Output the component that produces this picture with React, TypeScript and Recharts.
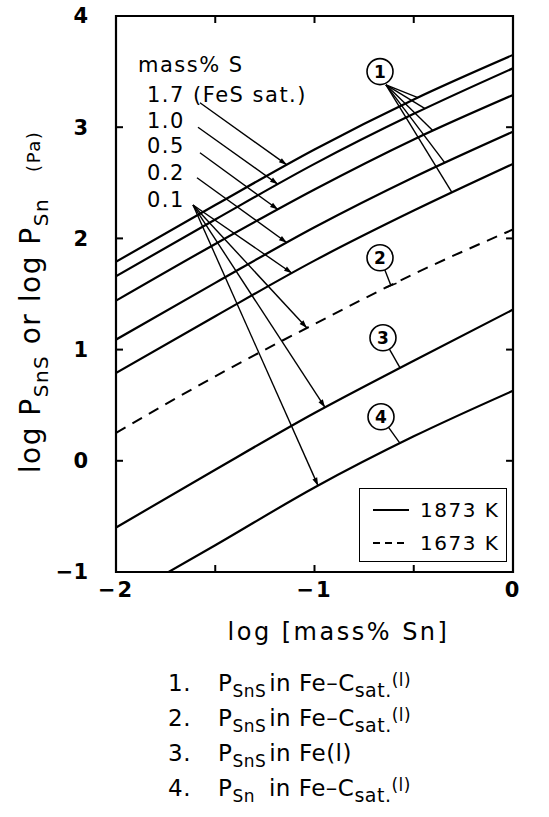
import React from "react";
import {
  Legend,
  Line,
  LineChart,
  ReferenceArea,
  ReferenceDot,
  ReferenceLine,
  XAxis,
  YAxis,
} from "recharts";

const FONT = '"DejaVu Sans", sans-serif';
const INK = "#000";

// log [mass% Sn]
const logSn = [-2, -1.5, -1, -0.5, 0];

// (1) log P_SnS in Fe-C sat. at 1873 K, one curve per S content
const sLevels = ["1.7", "1.0", "0.5", "0.2", "0.1"];
const sulfurKeys = ["s17", "s10", "s05", "s02", "s01"];
const s17 = [1.79, 2.3, 2.8, 3.25, 3.65];
const s10 = [1.66, 2.17, 2.67, 3.12, 3.53];
const s05 = [1.44, 1.95, 2.44, 2.89, 3.29];
const s02 = [1.09, 1.6, 2.1, 2.55, 2.96];
const s01 = [0.79, 1.3, 1.8, 2.25, 2.67];
// (2) log P_SnS in Fe-C sat. at 1673 K
const feC1673 = [0.25, 0.76, 1.23, 1.68, 2.08];
// (3) log P_SnS in Fe(l) at 1873 K
const fe1873 = [-0.6, -0.08, 0.43, 0.9, 1.36];
// (4) log P_Sn in Fe-C sat. at 1873 K
const sn1873 = [-1.27, -0.76, -0.24, 0.22, 0.63];

const xTicks = [-2, -1.5, -1, -0.5, 0];
const yTicks = [-1, 0, 1, 2, 3, 4];
const innerTicksX = [-1.5, -1, -0.5];
const innerTicksY = [0, 1, 2, 3];

const legendTemps = ["1873 K", "1673 K"];
const legendDashes = ["", "7 5"];

const sulfurSets = [s17, s10, s05, s02, s01];

const rows = logSn.map((x, i) => ({
  x,
  s17: s17[i],
  s10: s10[i],
  s05: s05[i],
  s02: s02[i],
  s01: s01[i],
  c2: feC1673[i],
  c3: fe1873[i],
  c4: sn1873[i],
}));

// linear read-off of a curve, used to land leader lines on it
const valueAt = (ys: number[], x: number) => {
  for (let i = 0; i < logSn.length - 1; i++) {
    if (x <= logSn[i + 1]) {
      const t = (x - logSn[i]) / (logSn[i + 1] - logSn[i]);
      return ys[i] + t * (ys[i + 1] - ys[i]);
    }
  }
  return ys[ys.length - 1];
};

// label arrows: "mass% S" column -> curves
const arrowFromX = [-1.577, -1.587, -1.577, -1.592];
const arrowFromY = [3.22, 3.0, 2.77, 2.545];
const arrowToX = [-1.139, -1.184, -1.184, -1.139];
const fanFrom = { x: -1.612, y: 2.3 };
const fanTargets = [
  { ys: s01, x: -1.113 },
  { ys: feC1673, x: -1.038 },
  { ys: fe1873, x: -0.947 },
  { ys: sn1873, x: -0.982 },
];

// circled curve numbers
const circleX = [-0.67, -0.67, -0.655, -0.665];
const circleY = [3.5, 1.826, 1.106, 0.396];
const fanOne = { x: -0.64, y: 3.381 };
const fanOneX = [-0.479, -0.443, -0.403, -0.343, -0.307];
const leaderX = [-0.615, -0.569, -0.569];
const leaderSets = [feC1673, fe1873, sn1873];

const sLabelY = [3.228, 2.995, 2.77, 2.527, 2.284];

const CIRCLE_R = 13;

const leader =
  (head: "arrow" | "bar" | "none", trim = 0) =>
  (p: any) => {
    const { x1, y1, x2, y2 } = p;
    const dx = x2 - x1;
    const dy = y2 - y1;
    const len = Math.hypot(dx, dy) || 1;
    const ux = dx / len;
    const uy = dy / len;
    const sx = x1 + ux * trim;
    const sy = y1 + uy * trim;
    const L = 8;
    const W = 2.6;
    return (
      <g>
        <line x1={sx} y1={sy} x2={x2} y2={y2} stroke={INK} strokeWidth={1.4} />
        {head === "arrow" && (
          <polygon
            points={`${x2},${y2} ${x2 - ux * L - uy * W},${y2 - uy * L + ux * W} ${x2 - ux * L + uy * W},${y2 - uy * L - ux * W}`}
            fill={INK}
          />
        )}
        {head === "bar" && (
          <line
            x1={x2 - uy * 6}
            y1={y2 + ux * 6}
            x2={x2 + uy * 6}
            y2={y2 - ux * 6}
            stroke={INK}
            strokeWidth={1.6}
          />
        )}
      </g>
    );
  };

const fmtX = (v: number) => (Number.isInteger(v) ? (v < 0 ? `\u2212${-v}` : `${v}`) : "");
const fmtY = (v: number) => (v < 0 ? `\u2212${-v}` : `${v}`);

const YTitle = (props: any) => {
  const { x, y, height } = props.viewBox;
  const cx = x + 40;
  const cy = y + height / 2 + 8;
  return (
    <text
      x={cx}
      y={cy}
      transform={`rotate(-90, ${cx}, ${cy})`}
      textAnchor="middle"
      fontFamily={FONT}
      fontSize={28}
      letterSpacing={1.5}
      fill={INK}
    >
      log P
      <tspan dy={8} fontSize={20}>SnS</tspan>
      <tspan dy={-8}> or log P</tspan>
      <tspan dy={8} fontSize={20}>Sn</tspan>
      <tspan dy={-8} dx={26} fontSize={18}>(Pa)</tspan>
    </text>
  );
};

const XTitle = (props: any) => {
  const { x, y, width } = props.viewBox;
  return (
    <text
      x={x + width / 2 + 24}
      y={y + 68}
      textAnchor="middle"
      fontFamily={FONT}
      fontSize={24}
      letterSpacing={2.5}
      fill={INK}
    >
      log [mass% Sn]
    </text>
  );
};

const textAt = (content: React.ReactNode, size = 21) => (p: any) => (
  <text x={p.cx} y={p.cy} fontFamily={FONT} fontSize={size} letterSpacing={1.5} fill={INK}>
    {content}
  </text>
);

const circled = (n: string) => (p: any) => (
  <g>
    <circle cx={p.cx} cy={p.cy} r={CIRCLE_R} fill="#fff" stroke={INK} strokeWidth={1.6} />
    <text
      x={p.cx}
      y={p.cy + 6}
      textAnchor="middle"
      fontFamily={FONT}
      fontSize={17}
      fontWeight={700}
      fill={INK}
    >
      {n}
    </text>
  </g>
);

const TempLegend = () => (
  <div
    style={{
      width: 148,
      height: 74,
      boxSizing: "border-box",
      border: "1.5px solid #000",
      background: "#fff",
      fontFamily: FONT,
      fontSize: 20,
      paddingTop: 4,
    }}
  >
    {legendTemps.map((t, i) => (
      <div key={t} style={{ display: "flex", alignItems: "center", height: 33, paddingLeft: 12 }}>
        <svg width={38} height={10}>
          <line
            x1={1}
            y1={5}
            x2={37}
            y2={5}
            stroke={INK}
            strokeWidth={2}
            strokeDasharray={legendDashes[i] || undefined}
          />
        </svg>
        <span style={{ marginLeft: 10, letterSpacing: 1.5 }}>{t}</span>
      </div>
    ))}
  </div>
);

const captionItems = [
  { n: "1.", sub: "SnS", host: "Fe\u2013C", hostSub: "sat." },
  { n: "2.", sub: "SnS", host: "Fe\u2013C", hostSub: "sat." },
  { n: "3.", sub: "SnS", host: "Fe", hostSub: "" },
  { n: "4.", sub: "Sn", host: "Fe\u2013C", hostSub: "sat." },
];

const lowered = (dy: number, size: number): React.CSSProperties => ({
  position: "relative",
  top: dy,
  fontSize: size,
});

export default function App() {
  const tickFont = { fontFamily: FONT, fontSize: 21, fontWeight: 700, fill: INK };
  const TX = 0.035;
  const TY = 0.063;

  return (
    <div style={{ position: "absolute", left: 0, top: 0, width: 549, height: 817, background: "#fff" }}>
      <LineChart width={549} height={660} data={rows} margin={{ top: 16, right: 36, left: 0, bottom: 58 }}>
        <XAxis
          dataKey="x"
          type="number"
          domain={[-2, 0]}
          ticks={xTicks}
          interval={0}
          allowDataOverflow
          axisLine={false}
          tickSize={-7}
          tickMargin={17}
          tickLine={{ stroke: INK, strokeWidth: 2 }}
          tick={{ ...tickFont, letterSpacing: 2 }}
          tickFormatter={fmtX}
          height={30}
          label={{ content: XTitle }}
        />
        <YAxis
          type="number"
          domain={[-1, 4]}
          ticks={yTicks}
          interval={0}
          allowDataOverflow
          axisLine={false}
          tickSize={-7}
          tickMargin={35}
          tickLine={{ stroke: INK, strokeWidth: 2 }}
          tick={tickFont}
          tickFormatter={fmtY}
          width={116}
          label={{ content: YTitle }}
        />

        <ReferenceArea x1={-2} x2={0} y1={-1} y2={4} stroke={INK} strokeWidth={2.2} fill="none" fillOpacity={0} />
        {innerTicksX.map((t) => (
          <ReferenceLine key={`tx${t}`} segment={[{ x: t, y: 4 }, { x: t, y: 4 - TY }]} stroke={INK} strokeWidth={2} />
        ))}
        {innerTicksY.map((t) => (
          <ReferenceLine key={`ty${t}`} segment={[{ x: 0, y: t }, { x: -TX, y: t }]} stroke={INK} strokeWidth={2} />
        ))}

        {sulfurKeys.map((k) => (
          <Line key={k} dataKey={k} type="monotone" stroke={INK} strokeWidth={2.2} dot={false} isAnimationActive={false} />
        ))}
        <Line dataKey="c2" type="monotone" stroke={INK} strokeWidth={2} strokeDasharray="11 8" dot={false} isAnimationActive={false} />
        <Line dataKey="c3" type="monotone" stroke={INK} strokeWidth={2.2} dot={false} isAnimationActive={false} />
        <Line dataKey="c4" type="monotone" stroke={INK} strokeWidth={2.2} dot={false} isAnimationActive={false} />

        {arrowFromX.map((fx, i) => (
          <ReferenceLine
            key={`a${i}`}
            segment={[
              { x: fx, y: arrowFromY[i] },
              { x: arrowToX[i], y: valueAt(sulfurSets[i], arrowToX[i]) },
            ]}
            shape={leader("arrow")}
          />
        ))}
        {fanTargets.map((t, i) => (
          <ReferenceLine
            key={`f${i}`}
            segment={[fanFrom, { x: t.x, y: valueAt(t.ys, t.x) }]}
            shape={leader("arrow")}
          />
        ))}
        {fanOneX.map((x, i) => (
          <ReferenceLine
            key={`o${i}`}
            segment={[fanOne, { x, y: valueAt(sulfurSets[i], x) }]}
            shape={leader("none")}
          />
        ))}
        {leaderX.map((x, i) => (
          <ReferenceLine
            key={`l${i}`}
            segment={[
              { x: circleX[i + 1], y: circleY[i + 1] },
              { x, y: valueAt(leaderSets[i], x) },
            ]}
            shape={leader(i === 0 ? "bar" : "none", CIRCLE_R)}
          />
        ))}

        <ReferenceDot x={-1.889} y={3.5} r={0} ifOverflow="visible" shape={textAt("mass% S", 21)} />
        {sLevels.map((s, i) => (
          <ReferenceDot
            key={`s${s}`}
            x={-1.844}
            y={sLabelY[i]}
            r={0}
            ifOverflow="visible"
            shape={textAt(i === 0 ? `${s}  (FeS sat.)` : s)}
          />
        ))}
        {circleX.map((x, i) => (
          <ReferenceDot key={`c${i}`} x={x} y={circleY[i]} r={CIRCLE_R} ifOverflow="visible" shape={circled(String(i + 1))} />
        ))}

        <Legend
          layout="vertical"
          align="center"
          verticalAlign="middle"
          content={TempLegend}
          wrapperStyle={{ left: 359, top: 488, width: 148, height: 74 }}
        />
      </LineChart>

      {captionItems.map((c, i) => (
        <div
          key={c.n}
          style={{
            position: "absolute",
            left: 168,
            top: 670 + i * 35,
            height: 35,
            fontFamily: FONT,
            fontSize: 23,
            lineHeight: "26px",
            letterSpacing: 0.5,
            whiteSpace: "nowrap",
            color: INK,
          }}
        >
          <span style={{ display: "inline-block", width: 50 }}>{c.n}</span>
          P<span style={lowered(6, 17)}>{c.sub}</span>
          <span style={{ marginLeft: c.sub === "Sn" ? 14 : 3 }}>in {c.host}</span>
          {c.hostSub && <span style={lowered(6, 19)}>{c.hostSub}</span>}
          {c.hostSub ? <span style={lowered(-5, 17)}>(l)</span> : <span>(l)</span>}
        </div>
      ))}
    </div>
  );
}
